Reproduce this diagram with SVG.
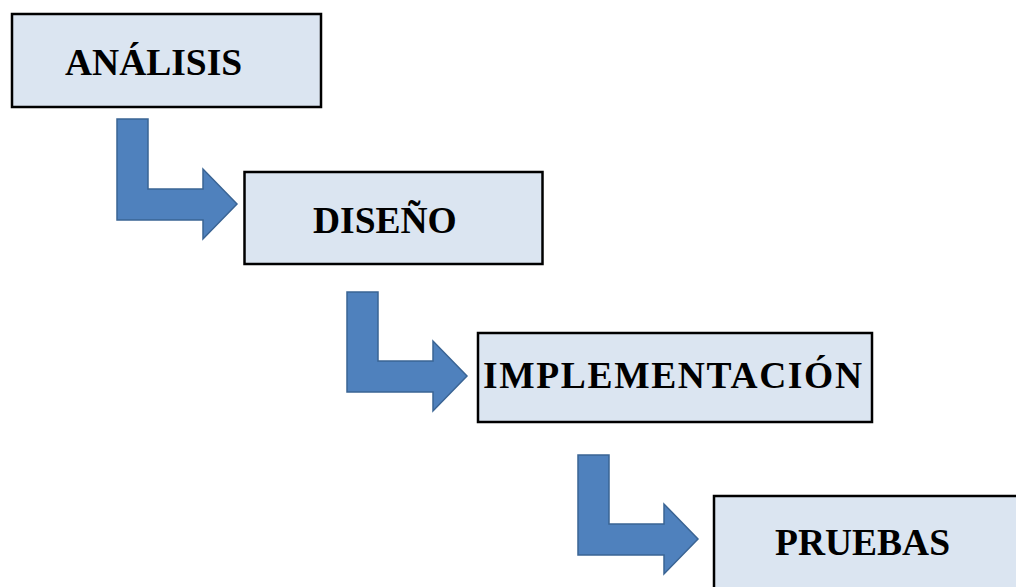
<svg xmlns="http://www.w3.org/2000/svg" width="1016" height="587" viewBox="0 0 1016 587">
<style>
.box{fill:#dbe5f1;stroke:#000;stroke-width:2.5}
.lbl{font-family:"Liberation Serif","Times New Roman",serif;font-weight:bold;font-size:37.5px;fill:#000}
.arr{fill:#4f81bd;stroke:#3a6494;stroke-width:1.5;stroke-linejoin:miter}
</style>
<rect width="1016" height="587" fill="#fff"/>
<g id="connectors">
<path class="arr" d="M117,119 H148 V189 H203 V169 L237,204 L203,239 V220 H117 Z"/>
<path class="arr" d="M347,292 H378 V361 H433 V341 L467,376 L433,411 V392 H347 Z"/>
<path class="arr" d="M578,455 H609 V524 H664 V504 L698,539 L664,574 V555 H578 Z"/>
</g>
<g id="analisis">
<rect class="box" x="12" y="14" width="309" height="93"/>
<text class="lbl" x="65" y="75">ANÁLISIS</text>
</g>
<g id="diseno">
<rect class="box" x="244.5" y="172" width="298" height="92"/>
<text class="lbl" x="313" y="233">DISEÑO</text>
</g>
<g id="implementacion">
<rect class="box" x="478" y="333" width="394" height="89"/>
<text class="lbl" x="483" y="388" textLength="379" lengthAdjust="spacing">IMPLEMENTACIÓN</text>
</g>
<g id="pruebas">
<rect class="box" x="714" y="496" width="320" height="100"/>
<text class="lbl" x="775" y="555">PRUEBAS</text>
</g>
</svg>
